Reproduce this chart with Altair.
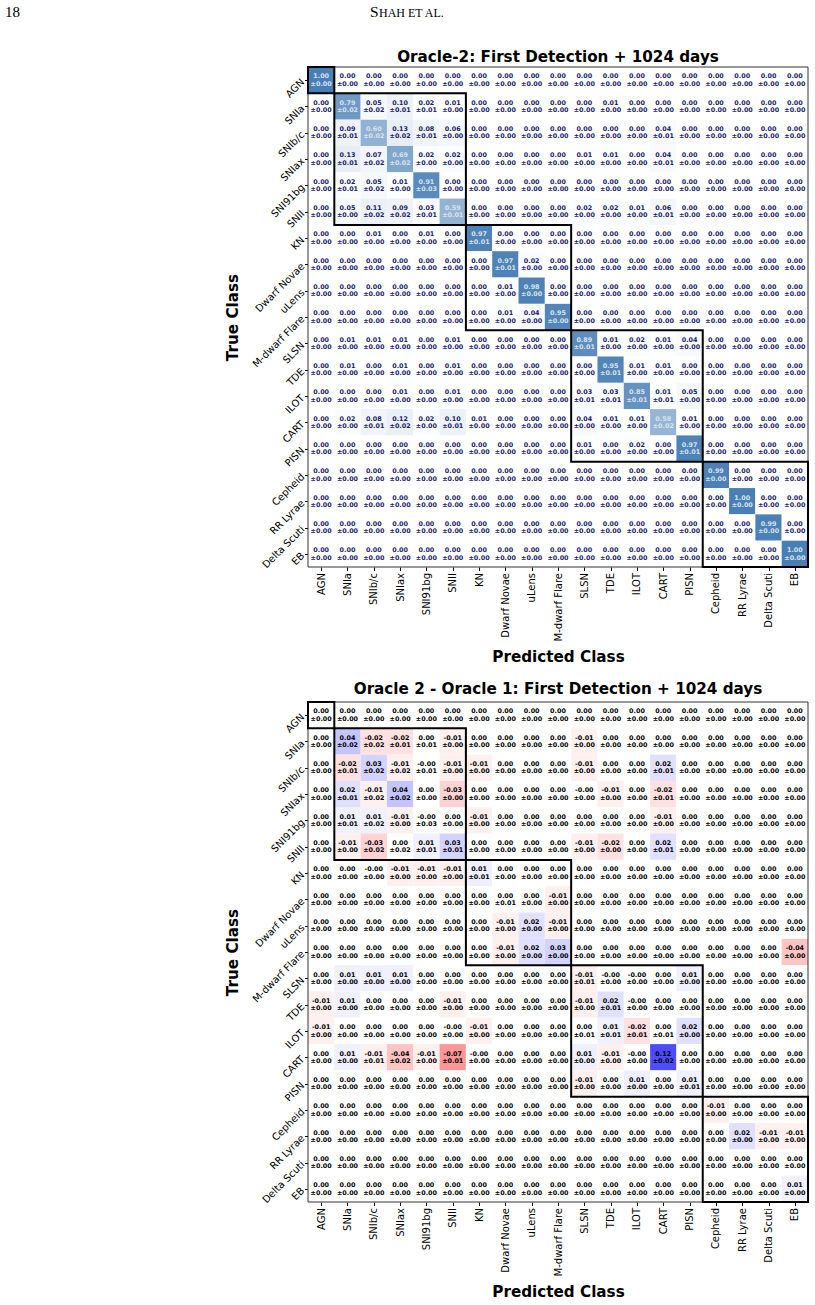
import json
import altair as alt
import pandas as pd

classes = ["AGN", "SNIa", "SNIb/c", "SNIax", "SNI91bg", "SNII", "KN", "Dwarf Novae",
           "uLens", "M-dwarf Flare", "SLSN", "TDE", "ILOT", "CART", "PISN", "Cepheid",
           "RR Lyrae", "Delta Scuti", "EB"]

# Oracle-2 confusion matrix (mean)
o2_mean = [
    [1.00, 0, 0, 0, 0, 0, 0, 0, 0, 0, 0, 0, 0, 0, 0, 0, 0, 0, 0],
    [0, 0.79, 0.05, 0.10, 0.02, 0.01, 0, 0, 0, 0, 0, 0.01, 0, 0, 0, 0, 0, 0, 0],
    [0, 0.09, 0.60, 0.13, 0.08, 0.06, 0, 0, 0, 0, 0, 0, 0, 0.04, 0, 0, 0, 0, 0],
    [0, 0.13, 0.07, 0.69, 0.02, 0.02, 0, 0, 0, 0, 0.01, 0.01, 0, 0.04, 0, 0, 0, 0, 0],
    [0, 0.02, 0.05, 0.01, 0.91, 0, 0, 0, 0, 0, 0, 0, 0, 0, 0, 0, 0, 0, 0],
    [0, 0.05, 0.11, 0.09, 0.03, 0.59, 0, 0, 0, 0, 0.02, 0.02, 0.01, 0.06, 0, 0, 0, 0, 0],
    [0, 0, 0.01, 0, 0.01, 0, 0.97, 0, 0, 0, 0, 0, 0, 0, 0, 0, 0, 0, 0],
    [0, 0, 0, 0, 0, 0, 0, 0.97, 0.02, 0, 0, 0, 0, 0, 0, 0, 0, 0, 0],
    [0, 0, 0, 0, 0, 0, 0, 0.01, 0.98, 0, 0, 0, 0, 0, 0, 0, 0, 0, 0],
    [0, 0, 0, 0, 0, 0, 0, 0.01, 0.04, 0.95, 0, 0, 0, 0, 0, 0, 0, 0, 0],
    [0, 0.01, 0.01, 0.01, 0, 0.01, 0, 0, 0, 0, 0.89, 0.01, 0.02, 0.01, 0.04, 0, 0, 0, 0],
    [0, 0.01, 0, 0.01, 0, 0.01, 0, 0, 0, 0, 0, 0.95, 0.01, 0.01, 0, 0, 0, 0, 0],
    [0, 0, 0, 0.01, 0, 0.01, 0, 0, 0, 0, 0.03, 0.03, 0.85, 0.01, 0.05, 0, 0, 0, 0],
    [0, 0.02, 0.08, 0.12, 0.02, 0.10, 0.01, 0, 0, 0, 0.04, 0.01, 0.01, 0.58, 0.01, 0, 0, 0, 0],
    [0, 0, 0, 0, 0, 0, 0, 0, 0, 0, 0.01, 0, 0.02, 0, 0.97, 0, 0, 0, 0],
    [0, 0, 0, 0, 0, 0, 0, 0, 0, 0, 0, 0, 0, 0, 0, 0.99, 0, 0, 0],
    [0, 0, 0, 0, 0, 0, 0, 0, 0, 0, 0, 0, 0, 0, 0, 0, 1.00, 0, 0],
    [0, 0, 0, 0, 0, 0, 0, 0, 0, 0, 0, 0, 0, 0, 0, 0, 0, 0.99, 0],
    [0, 0, 0, 0, 0, 0, 0, 0, 0, 0, 0, 0, 0, 0, 0, 0, 0, 0, 1.00],
]

# Oracle-2 confusion matrix (std)
o2_std = [
    [0] * 19,
    [0, 0.02, 0.02, 0.01, 0.01, 0, 0, 0, 0, 0, 0, 0, 0, 0, 0, 0, 0, 0, 0],
    [0, 0.01, 0.02, 0.02, 0.01, 0, 0, 0, 0, 0, 0, 0, 0, 0.01, 0, 0, 0, 0, 0],
    [0, 0.01, 0.02, 0.02, 0, 0, 0, 0, 0, 0, 0, 0, 0, 0.01, 0, 0, 0, 0, 0],
    [0, 0.01, 0.02, 0, 0.03, 0, 0, 0, 0, 0, 0, 0, 0, 0, 0, 0, 0, 0, 0],
    [0, 0, 0.02, 0.02, 0.01, 0.01, 0, 0, 0, 0, 0, 0, 0, 0.01, 0, 0, 0, 0, 0],
    [0, 0, 0, 0, 0, 0, 0.01, 0, 0, 0, 0, 0, 0, 0, 0, 0, 0, 0, 0],
    [0, 0, 0, 0, 0, 0, 0, 0.01, 0, 0, 0, 0, 0, 0, 0, 0, 0, 0, 0],
    [0] * 19,
    [0] * 19,
    [0, 0, 0, 0, 0, 0, 0, 0, 0, 0, 0.01, 0, 0, 0, 0, 0, 0, 0, 0],
    [0, 0, 0, 0, 0, 0, 0, 0, 0, 0, 0, 0.01, 0, 0, 0, 0, 0, 0, 0],
    [0, 0, 0, 0, 0, 0, 0, 0, 0, 0, 0.01, 0.01, 0.01, 0.01, 0, 0, 0, 0, 0],
    [0, 0, 0.01, 0.02, 0, 0.01, 0, 0, 0, 0, 0, 0, 0, 0.02, 0, 0, 0, 0, 0],
    [0, 0, 0, 0, 0, 0, 0, 0, 0, 0, 0, 0, 0, 0, 0.01, 0, 0, 0, 0],
    [0] * 19,
    [0] * 19,
    [0] * 19,
    [0] * 19,
]

# Oracle 2 - Oracle 1 (mean difference)
diff_mean = [
    [0] * 19,
    [0, 0.04, -0.02, -0.02, 0, -0.01, 0, 0, 0, 0, -0.01, 0, 0, 0, 0, 0, 0, 0, 0],
    [0, -0.02, 0.03, -0.01, -0.0, -0.01, -0.01, 0, 0, 0, -0.01, 0, 0, 0.02, 0, 0, 0, 0, 0],
    [0, 0.02, -0.01, 0.04, 0, -0.03, 0, 0, 0, 0, -0.0, -0.01, 0, -0.02, 0, 0, 0, 0, 0],
    [0, 0.01, 0.01, -0.01, -0.0, 0, -0.01, 0, 0, 0, 0, 0, 0, -0.01, 0, 0, 0, 0, 0],
    [0, -0.01, -0.03, 0, 0.01, 0.03, 0, 0, 0, 0, -0.01, -0.02, 0, 0.02, 0, 0, 0, 0, 0],
    [0, 0, -0.0, -0.01, -0.01, -0.01, 0.01, 0, 0, 0, 0, 0, 0, 0, 0, 0, 0, 0, 0],
    [0, 0, 0, 0, 0, 0, 0, 0, 0, -0.01, 0, 0, 0, 0, 0, 0, 0, 0, 0],
    [0, 0, 0, 0, 0, 0, 0, -0.01, 0.02, -0.01, 0, 0, 0, 0, 0, 0, 0, 0, 0],
    [0, 0, 0, 0, 0, 0, 0, -0.01, 0.02, 0.03, 0, 0, 0, 0, 0, 0, 0, 0, -0.04],
    [0, 0.01, 0.01, 0.01, 0, 0, 0, 0, 0, 0, -0.01, -0.0, -0.0, 0, 0.01, 0, 0, 0, 0],
    [-0.01, 0.01, 0, 0, 0, -0.01, 0, 0, 0, 0, -0.01, 0.02, -0.0, 0, 0, 0, 0, 0, 0],
    [-0.01, 0, 0, 0, 0, -0.0, -0.01, 0, 0, 0, 0, 0.01, -0.02, 0, 0.02, 0, 0, 0, 0],
    [0, 0.01, -0.01, -0.04, -0.01, -0.07, -0.0, 0, 0, 0, 0.01, -0.01, -0.0, 0.12, 0, 0, 0, 0, 0],
    [0, 0, 0, 0, 0, 0, 0, 0, 0, 0, -0.01, 0, 0.01, 0, 0.01, 0, 0, 0, 0],
    [0, 0, 0, 0, 0, 0, 0, 0, 0, 0, 0, 0, 0, 0, 0, -0.01, 0, 0, 0],
    [0, 0, 0, 0, 0, 0, 0, 0, 0, 0, 0, 0, 0, 0, 0, 0, 0.02, -0.01, -0.01],
    [0] * 19,
    [0, 0, 0, 0, 0, 0, 0, 0, 0, 0, 0, 0, 0, 0, 0, 0, 0, 0, 0.01],
]

# Oracle 2 - Oracle 1 (std)
diff_std = [
    [0] * 19,
    [0, 0.02, 0.02, 0.01, 0.01, 0, 0, 0, 0, 0, 0, 0, 0, 0, 0, 0, 0, 0, 0],
    [0, 0.01, 0.02, 0.02, 0.01, 0, 0, 0, 0, 0, 0, 0, 0, 0.01, 0, 0, 0, 0, 0],
    [0, 0.01, 0.02, 0.02, 0, 0, 0, 0, 0, 0, 0, 0, 0, 0.01, 0, 0, 0, 0, 0],
    [0, 0.01, 0.02, 0, 0.03, 0, 0, 0, 0, 0, 0, 0, 0, 0, 0, 0, 0, 0, 0],
    [0, 0, 0.02, 0.02, 0.01, 0.01, 0, 0, 0, 0, 0, 0, 0, 0.01, 0, 0, 0, 0, 0],
    [0, 0, 0, 0, 0, 0, 0.01, 0, 0, 0, 0, 0, 0, 0, 0, 0, 0, 0, 0],
    [0, 0, 0, 0, 0, 0, 0, 0.01, 0, 0, 0, 0, 0, 0, 0, 0, 0, 0, 0],
    [0] * 19,
    [0] * 19,
    [0, 0, 0, 0, 0, 0, 0, 0, 0, 0, 0.01, 0, 0, 0, 0, 0, 0, 0, 0],
    [0, 0, 0, 0, 0, 0, 0, 0, 0, 0, 0, 0.01, 0, 0, 0, 0, 0, 0, 0],
    [0, 0, 0, 0, 0, 0, 0, 0, 0, 0, 0.01, 0.01, 0.01, 0.01, 0, 0, 0, 0, 0],
    [0, 0, 0.01, 0.02, 0, 0.01, 0, 0, 0, 0, 0, 0, 0, 0.02, 0, 0, 0, 0, 0],
    [0, 0, 0, 0, 0, 0, 0, 0, 0, 0, 0, 0, 0, 0, 0.01, 0, 0, 0, 0],
    [0] * 19,
    [0] * 19,
    [0] * 19,
    [0] * 19,
]

# class groups (start index, end index) outlined on the diagonal
group_starts = [0, 1, 6, 10, 15]
group_ends = [1, 6, 10, 15, 19]

N = len(classes)
FONT = "DejaVu Sans"
TITLE_SIZE = 15.2
label_expr = json.dumps(classes) + "[floor(datum.value)]"
tick_vals = [i + 0.5 for i in range(N)]


def cells(mean, std):
    rows = []
    for r in range(N):
        for c in range(N):
            m = float(mean[r][c])
            s = float(std[r][c])
            rows.append({"r": r, "r1": r + 1, "c": c, "c1": c + 1,
                         "cm": c + 0.5, "rm": r + 0.5, "v": m,
                         "t1": f"{m:.2f}", "t2": f"\u00b1{s:.2f}"})
    return pd.DataFrame(rows)


groups_df = pd.DataFrame({"s": group_starts, "e": group_ends})
frame_df = pd.DataFrame({"s": [0], "e": [N]})

XS = alt.Scale(domain=[0, N], nice=False, zero=False)
YS = alt.Scale(domain=[0, N], nice=False, zero=False, reverse=True)
XAXIS = alt.Axis(values=tick_vals, labelExpr=label_expr, labelAngle=270,
                 labelAlign="right", labelBaseline="middle", labelFont=FONT,
                 labelFontSize=10, labelColor="black", tickSize=3.5,
                 tickColor="black", labelPadding=2, grid=False, domain=False,
                 labelOverlap=False, labelBound=False, labelFlush=False,
                 title="Predicted Class", titleFont=FONT, titleFontSize=TITLE_SIZE,
                 titleFontWeight="bold", titleColor="black", titleY=89,
                 titleBaseline="middle")
YAXIS = alt.Axis(values=tick_vals, labelExpr=label_expr, labelAngle=315,
                 labelAlign="right", labelBaseline="middle", labelFont=FONT,
                 labelFontSize=10, labelColor="black", tickSize=3.5,
                 tickColor="black", labelPadding=2, grid=False, domain=False,
                 labelOverlap=False, labelBound=False, labelFlush=False,
                 title="True Class", titleFont=FONT, titleFontSize=TITLE_SIZE,
                 titleFontWeight="bold", titleColor="black", titleX=-76,
                 titleBaseline="middle", titleAngle=270)


def X(f):
    return alt.X(f, scale=XS, axis=XAXIS)


def Y(f):
    return alt.Y(f, scale=YS, axis=YAXIS)


def panel(mean, std, title, color_scale, text_color, title_dy):
    df = cells(mean, std)
    base = alt.Chart(df)
    rect = base.mark_rect().encode(
        x=X("c:Q"), x2="c1:Q", y=Y("r:Q"), y2="r1:Q",
        color=alt.Color("v:Q", scale=color_scale, legend=None),
    )
    t1 = base.mark_text(font=FONT, fontSize=6.4, fontWeight="bold", dy=-3.7,
                        baseline="middle").encode(
        x=X("cm:Q"), y=Y("rm:Q"), text="t1:N", color=text_color)
    t2 = base.mark_text(font=FONT, fontSize=6.4, fontWeight="bold", dy=3.7,
                        baseline="middle").encode(
        x=X("cm:Q"), y=Y("rm:Q"), text="t2:N", color=text_color)
    frame = alt.Chart(frame_df).mark_rect(fillOpacity=0, stroke="#333333",
                                          strokeWidth=1).encode(
        x=X("s:Q"), x2="e:Q", y=Y("s:Q"), y2="e:Q")
    boxes = alt.Chart(groups_df).mark_rect(fillOpacity=0, stroke="black",
                                           strokeWidth=2).encode(
        x=X("s:Q"), x2="e:Q", y=Y("s:Q"), y2="e:Q")
    tp = dict(font=FONT, fontSize=TITLE_SIZE, fontWeight="bold",
              color="black", anchor="middle", offset=4)
    if title_dy:
        tp["dy"] = title_dy
    return alt.layer(rect, t1, t2, frame, boxes).properties(
        width=500, height=500, title=alt.TitleParams(title, **tp))


top_text_color = alt.condition(alt.datum.v > 0.5, alt.value("#d6e2ef"),
                               alt.value("#1c1c66"))
top = panel(o2_mean, o2_std, "Oracle-2: First Detection + 1024 days",
            alt.Scale(domain=[0, 1], range=["#ffffff", "#4a7fb5"], interpolate="rgb"),
            top_text_color, 64)

header_df = pd.DataFrame({"k": [0]})
page_no = alt.Chart(header_df).mark_text(
    text="18", font="Liberation Serif", fontSize=15, align="left",
    baseline="alphabetic", color="black").encode(x=alt.value(-303), y=alt.value(-50))
run_s = alt.Chart(header_df).mark_text(
    text="S", font="Liberation Serif", fontSize=15.5, align="left",
    baseline="alphabetic", color="black").encode(x=alt.value(62), y=alt.value(-50))
run_rest = alt.Chart(header_df).mark_text(
    text="HAH ET AL.", font="Liberation Serif", fontSize=12, align="left",
    baseline="alphabetic", color="black").encode(x=alt.value(71), y=alt.value(-50))

top = alt.layer(top, page_no, run_s, run_rest)

bottom = panel(diff_mean, diff_std, "Oracle 2 - Oracle 1: First Detection + 1024 days",
               alt.Scale(domain=[-0.12, 0, 0.12], range=["#ff4d4d", "#ffffff", "#4d4dff"],
                         interpolate="rgb"),
               alt.value("black"), 0)

chart = alt.vconcat(top, bottom, spacing=135, bounds="flush").resolve_scale(
    color="independent").configure_view(strokeWidth=0).configure_axis(
    labelOverlap=False)

chart.save("out.html", embed_options={"renderer": "svg", "actions": False})
